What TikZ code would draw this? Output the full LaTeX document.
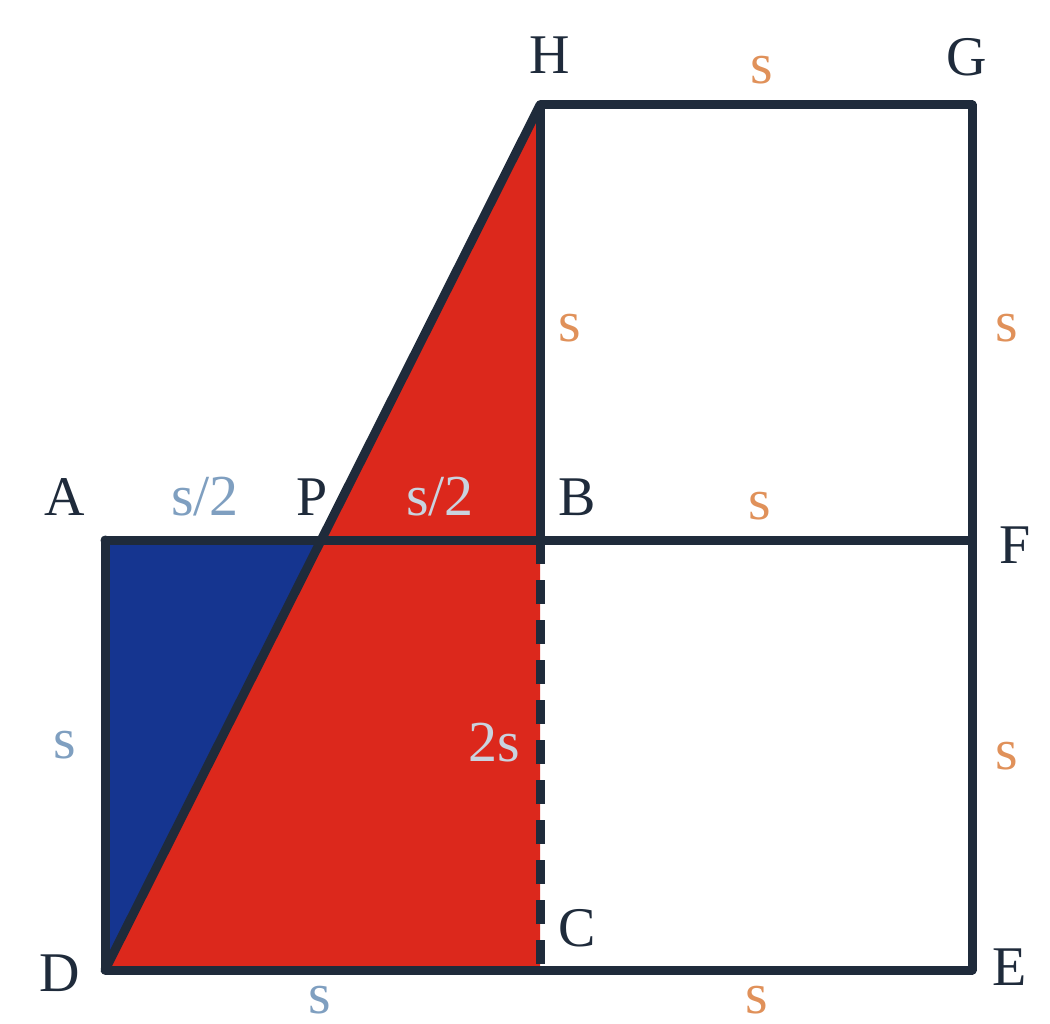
\documentclass[tikz,border=0pt]{standalone}
\usepackage{fontspec}
\setmainfont{Liberation Serif}
\begin{document}
\begin{tikzpicture}[x=1pt,y=-1pt,
  edge/.style={draw=lc,line width=9pt,line join=round,line cap=round},
  dashedge/.style={draw=lc,line width=9pt,dash pattern=on 24pt off 16pt},
  lab/.style={font=\fontsize{56}{60}\selectfont,text=lc,inner sep=0pt},
  olab/.style={font=\fontsize{58}{60}\selectfont,text=orng,inner sep=0pt},
  blab/.style={font=\fontsize{58}{60}\selectfont,text=bgray,inner sep=0pt},
  wlab/.style={font=\fontsize{58}{60}\selectfont,text=lgray,inner sep=0pt}]
\definecolor{lc}{HTML}{1F2B3B}
\definecolor{redf}{HTML}{DC281C}
\definecolor{bluef}{HTML}{153590}
\definecolor{orng}{HTML}{E0915A}
\definecolor{bgray}{HTML}{7F9FC0}
\definecolor{lgray}{HTML}{C9D3DF}
\useasboundingbox (0,0) rectangle (1050,1024);
\coordinate (A) at (105,540);
\coordinate (B) at (540,540);
\coordinate (C) at (540,970);
\coordinate (D) at (105,970);
\coordinate (P) at (320,540);
\coordinate (H) at (540,105);
\coordinate (G) at (972,105);
\coordinate (F) at (972,540);
\coordinate (E) at (972,970);
% fills
\fill[bluef] (A) -- (D) -- (P) -- cycle;
\fill[redf] (D) -- (H) -- (C) -- cycle;
% lines
\draw[dashedge] (B) -- (C);
\draw[edge] (A) -- (F);
\draw[edge] (A) -- (D) -- (E) -- (G) -- (H) -- (B);
\draw[edge] (D) -- (H);
% point labels
\node[lab] (lH) at (550,55) {H};
\node[lab] (lG) at (967,57) {G};
\node[lab] (lA) at (65,497) {A};
\node[lab] (lP) at (312,497) {P};
\node[lab] (lB) at (577,497) {B};
\node[lab] (lF) at (1015,545) {F};
\node[lab] (lC) at (577,928) {C};
\node[lab] (lD) at (60,973) {D};
\node[lab] (lE) at (1010,967) {E};
% length labels
\node[olab] (s1) at (762,70) {s};
\node[olab] (s2) at (570,328) {s};
\node[olab] (s3) at (1007,328) {s};
\node[olab] (s4) at (760,506) {s};
\node[olab] (s5) at (1007,756) {s};
\node[olab] (s6) at (757,1000) {s};
\node[blab] (s7) at (320,1000) {s};
\node[blab] (s8) at (65,745) {s};
\node[blab] (h1) at (205,497) {s/2};
\node[wlab] (h2) at (440,497) {s/2};
\node[wlab] (t1) at (494,743) {2s};
\end{tikzpicture}
\end{document}
